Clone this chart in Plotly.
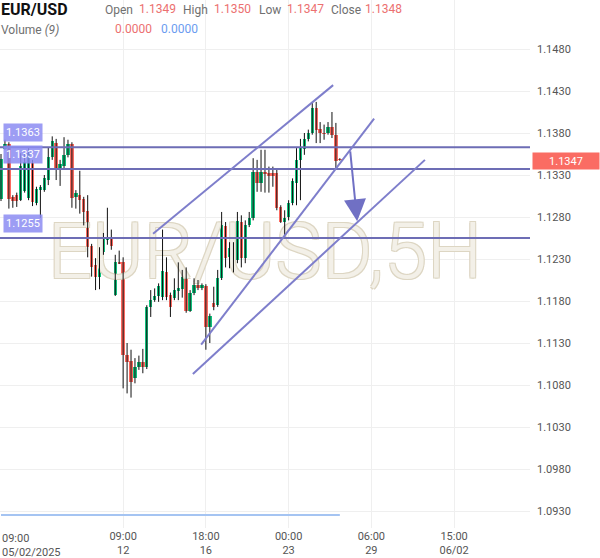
import plotly.graph_objects as go

# ---------------- data ----------------
opens = [1.1301, 1.1361, 1.1367, 1.1304, 1.1306, 1.1300, 1.1311, 1.1303, 1.1344, 1.1297,
         1.1312, 1.1312, 1.1324, 1.1351, 1.1368, 1.1337, 1.1341, 1.1354, 1.1367, 1.1304,
         1.1306, 1.1301, 1.1287, 1.1245, 1.1223, 1.1209, 1.1238, 1.1253, 1.1256, 1.1187,
         1.1226, 1.1226, 1.1116, 1.1109, 1.1088, 1.1101, 1.1107, 1.1101, 1.1173, 1.1181,
         1.1186, 1.1185, 1.1214, 1.1187, 1.1184, 1.1192, 1.1194, 1.1209, 1.1168, 1.1190,
         1.1199, 1.1195, 1.1198, 1.1149, 1.1178, 1.1175, 1.1207, 1.1269, 1.1232, 1.1242,
         1.1229, 1.1274, 1.1231, 1.1270, 1.1279, 1.1334, 1.1320, 1.1334, 1.1332, 1.1332,
         1.1332, 1.1292, 1.1274, 1.1280, 1.1297, 1.1320, 1.1348, 1.1361, 1.1373, 1.1380,
         1.1410, 1.1385, 1.1380, 1.1380, 1.1387, 1.1378, 1.1349]
highs = [1.1355, 1.1372, 1.1369, 1.1306, 1.1309, 1.1356, 1.1356, 1.1362, 1.1348, 1.1316,
         1.1318, 1.1330, 1.1363, 1.1376, 1.1373, 1.1348, 1.1375, 1.1372, 1.1369, 1.1312,
         1.1335, 1.1304, 1.1306, 1.1248, 1.1231, 1.1244, 1.1261, 1.1291, 1.1265, 1.1235,
         1.1240, 1.1232, 1.1130, 1.1122, 1.1112, 1.1115, 1.1123, 1.1175, 1.1193, 1.1195,
         1.1201, 1.1265, 1.1232, 1.1190, 1.1207, 1.1226, 1.1217, 1.1220, 1.1193, 1.1207,
         1.1205, 1.1201, 1.1200, 1.1165, 1.1197, 1.1217, 1.1286, 1.1274, 1.1250, 1.1250,
         1.1286, 1.1282, 1.1276, 1.1286, 1.1350, 1.1348, 1.1360, 1.1360, 1.1340, 1.1340,
         1.1338, 1.1294, 1.1288, 1.1300, 1.1326, 1.1362, 1.1373, 1.1380, 1.1384, 1.1417,
         1.1417, 1.1393, 1.1390, 1.1393, 1.1405, 1.1392, 1.1350]
lows = [1.1299, 1.1360, 1.1290, 1.1291, 1.1292, 1.1299, 1.1309, 1.1300, 1.1293, 1.1294,
        1.1279, 1.1310, 1.1318, 1.1348, 1.1324, 1.1317, 1.1338, 1.1351, 1.1291, 1.1290,
        1.1284, 1.1270, 1.1232, 1.1209, 1.1193, 1.1194, 1.1235, 1.1247, 1.1241, 1.1186,
        1.1224, 1.1076, 1.1070, 1.1065, 1.1082, 1.1098, 1.1094, 1.1099, 1.1161, 1.1179,
        1.1179, 1.1181, 1.1181, 1.1161, 1.1181, 1.1181, 1.1184, 1.1166, 1.1167, 1.1187,
        1.1193, 1.1193, 1.1122, 1.1130, 1.1169, 1.1173, 1.1205, 1.1220, 1.1219, 1.1214,
        1.1225, 1.1220, 1.1225, 1.1268, 1.1276, 1.1310, 1.1310, 1.1309, 1.1309, 1.1316,
        1.1288, 1.1273, 1.1256, 1.1276, 1.1294, 1.1294, 1.1300, 1.1354, 1.1370, 1.1378,
        1.1368, 1.1368, 1.1372, 1.1378, 1.1374, 1.1336, 1.1347]
closes = [1.1349, 1.1367, 1.1301, 1.1299, 1.1299, 1.1341, 1.1345, 1.1356, 1.1298, 1.1313,
          1.1316, 1.1326, 1.1351, 1.1370, 1.1338, 1.1343, 1.1354, 1.1367, 1.1303, 1.1309,
          1.1300, 1.1286, 1.1244, 1.1220, 1.1209, 1.1238, 1.1256, 1.1256, 1.1245, 1.1226,
          1.1225, 1.1116, 1.1107, 1.1084, 1.1101, 1.1107, 1.1101, 1.1173, 1.1181, 1.1186,
          1.1198, 1.1216, 1.1185, 1.1173, 1.1193, 1.1195, 1.1209, 1.1168, 1.1190, 1.1199,
          1.1195, 1.1199, 1.1149, 1.1162, 1.1173, 1.1207, 1.1270, 1.1231, 1.1243, 1.1234,
          1.1275, 1.1231, 1.1270, 1.1279, 1.1334, 1.1320, 1.1334, 1.1331, 1.1329, 1.1329,
          1.1291, 1.1274, 1.1279, 1.1297, 1.1323, 1.1348, 1.1362, 1.1373, 1.1380, 1.1410,
          1.1384, 1.1380, 1.1379, 1.1387, 1.1378, 1.1347, 1.1348]
volumes = [0.0, 0.0, 0.0, 0.0, 0.0, 0.0, 0.0, 0.0, 0.0, 0.0, 0.0, 0.0, 0.0, 0.0, 0.0,
           0.0, 0.0, 0.0, 0.0, 0.0, 0.0, 0.0, 0.0, 0.0, 0.0, 0.0, 0.0, 0.0, 0.0, 0.0,
           0.0, 0.0, 0.0, 0.0, 0.0, 0.0, 0.0, 0.0, 0.0, 0.0, 0.0, 0.0, 0.0, 0.0, 0.0,
           0.0, 0.0, 0.0, 0.0, 0.0, 0.0, 0.0, 0.0, 0.0, 0.0, 0.0, 0.0, 0.0, 0.0, 0.0,
           0.0, 0.0, 0.0, 0.0, 0.0, 0.0, 0.0, 0.0, 0.0, 0.0, 0.0, 0.0, 0.0, 0.0, 0.0,
           0.0, 0.0, 0.0, 0.0, 0.0, 0.0, 0.0, 0.0, 0.0, 0.0, 0.0, 0.0]

level_prices = [1.1363, 1.1337, 1.1255]
level_labels = ["1.1363", "1.1337", "1.1255"]

y_ticks = [1.0930, 1.0980, 1.1030, 1.1080, 1.1130, 1.1180, 1.1230, 1.1280,
           1.1330, 1.1380, 1.1430, 1.1480]
x_tick_idx = [31, 52, 73, 94, 115]
x_tick_text = ["09:00<br>12", "18:00<br>16", "00:00<br>23", "06:00<br>29", "15:00<br>06/02"]
first_tick_text = "09:00<br>05/02/2025"

# drawn trend lines: (x0 index, y0 price, x1 index, y1 price)
trend_lines = [(38.6, 1.1260, 84.3, 1.1437),
               (50.8, 1.1128, 94.7, 1.1397),
               (48.7, 1.1093, 107.6, 1.1348)]
arrow_line = (88.6, 1.1360, 90.4, 1.1275)

symbol = "EUR/USD"
watermark = "EUR/USD,5H"
ohlc_labels = ["Open", "High", "Low", "Close"]
ohlc_values = ["1.1349", "1.1350", "1.1347", "1.1348"]
volume_values = ["0.0000", "0.0000"]
last_price_tag = 1.1347

# ---------------- style ----------------
GREEN = "#10c07c"
RED = "#fb6a60"
LINE_DARK = "#6d6db5"
LINE_TREND = "#7e7ecb"
FONT = "Roboto"
PLOT_W, PLOT_H = 530, 528

idx = list(range(len(opens)))

wick_x, wick_y = [], []
for i, h, l in zip(idx, highs, lows):
    wick_x += [i, i, None]
    wick_y += [l, h, None]

body_base = [min(o, c) for o, c in zip(opens, closes)]
body_h = [max(abs(c - o), 0.00008) for o, c in zip(opens, closes)]
body_col = [GREEN if c >= o else RED for o, c in zip(opens, closes)]

fig = go.Figure()

# watermark (under the candles)
OUT = "#ddd6c3"
fig.add_trace(go.Scatter(
    x=[67], y=[1.1231], mode="text", text=[watermark],
    textfont=dict(family=FONT, size=78, color="#f3f0e8", weight=300,
                  shadow=f"1px 1px 0 {OUT}, -1px -1px 0 {OUT}, 1px -1px 0 {OUT}, -1px 1px 0 {OUT}"),
    hoverinfo="skip", showlegend=False))

fig.add_trace(go.Scatter(x=wick_x, y=wick_y, mode="lines",
                         line=dict(color="#111111", width=1),
                         hoverinfo="skip", showlegend=False))
fig.add_trace(go.Bar(x=idx, y=body_h, base=body_base, width=0.86,
                     marker=dict(color=body_col, line=dict(width=0)),
                     hoverinfo="skip", showlegend=False))
fig.add_trace(go.Scatter(x=idx, y=volumes, mode="lines", yaxis="y2",
                         line=dict(color="#a5c4f2", width=2),
                         hoverinfo="skip", showlegend=False))

shapes = []
for p in level_prices:
    shapes.append(dict(type="line", xref="paper", yref="y", x0=0, x1=1, y0=p, y1=p,
                       line=dict(color=LINE_DARK, width=2)))
for x0, y0, x1, y1 in trend_lines:
    shapes.append(dict(type="line", xref="x", yref="y", x0=x0, y0=y0, x1=x1, y1=y1,
                       line=dict(color=LINE_TREND, width=2)))

ann = []
# arrow
ax0, ay0, ax1, ay1 = arrow_line
ann.append(dict(x=ax1, y=ay1, ax=ax0, ay=ay0, xref="x", yref="y", axref="x", ayref="y",
                text="", showarrow=True, arrowhead=2, arrowsize=2.2, arrowwidth=2,
                arrowcolor="#7070c4"))
# level labels
for p, t in zip(level_prices, level_labels):
    ann.append(dict(x=3 / PLOT_W, y=p, xref="paper", yref="y", xanchor="left",
                    yanchor="middle", yshift=15, text=t, showarrow=False,
                    bgcolor="rgba(140,140,242,0.85)", borderpad=2,
                    font=dict(family=FONT, size=11, color="white")))
# last price tag
ann.append(dict(x=566 / PLOT_W, y=last_price_tag, xref="paper", yref="y",
                xanchor="center", yanchor="middle", text=f"{last_price_tag:.4f}",
                showarrow=False, bgcolor="#fa6c63", width=64, height=14, borderpad=1,
                font=dict(family=FONT, size=11, color="white")))
# first x label
ann.append(dict(x=0, y=0, xref="paper", yref="paper", xanchor="left", yanchor="top",
                yshift=-2, text=first_tick_text, showarrow=False, align="left",
                font=dict(family=FONT, size=11, color="#555555")))


def hdr(px, py, text, color, size=12, bold=False):
    ann.append(dict(x=px / PLOT_W, y=1 - py / PLOT_H, xref="paper", yref="paper",
                    xanchor="left", yanchor="middle", text=text, showarrow=False,
                    font=dict(family=FONT, size=size, color=color,
                              weight=700 if bold else 400)))


hdr(-1, 10, symbol, "#111111", size=16, bold=True)
label_x = [103, 181, 257, 329]
value_x = [137, 212, 285, 363]
for lx, vx, lab, val in zip(label_x, value_x, ohlc_labels, ohlc_values):
    hdr(lx, 10, lab, "#707070")
    hdr(vx, 9, val, "#ec7070")
hdr(-1, 30, "Volume <i>(9)</i>", "#707070")
hdr(113, 29, volume_values[0], "#ec7070")
hdr(159, 29, volume_values[1], "#6b9cf0")

x_lo = -1 / 3.94
x_hi = (PLOT_W - 1) / 3.94
y_top = 1.1480 + 49 / 8400
y_bot = 1.1480 - (PLOT_H - 49) / 8400

fig.update_layout(
    width=600, height=558,
    margin=dict(l=0, r=600 - PLOT_W, t=0, b=558 - PLOT_H),
    paper_bgcolor="white", plot_bgcolor="white",
    showlegend=False, bargap=0,
    font=dict(family=FONT, size=11, color="#555555"),
    xaxis=dict(range=[x_lo, x_hi], tickvals=x_tick_idx, ticktext=x_tick_text,
               showgrid=True, gridcolor="#efefef", gridwidth=1, zeroline=False,
               showline=False, ticks="", fixedrange=True,
               tickfont=dict(family=FONT, size=11, color="#555555")),
    yaxis=dict(range=[y_bot, y_top], side="right", tickvals=y_ticks, tickformat=".4f",
               showgrid=True, gridcolor="#efefef", gridwidth=1, zeroline=False,
               showline=False, ticks="", ticklabelstandoff=6, fixedrange=True,
               tickfont=dict(family=FONT, size=11, color="#555555")),
    yaxis2=dict(range=[-1, 40], overlaying="y", visible=False, fixedrange=True),
    shapes=shapes, annotations=ann,
)

fig.write_html("out.html")
